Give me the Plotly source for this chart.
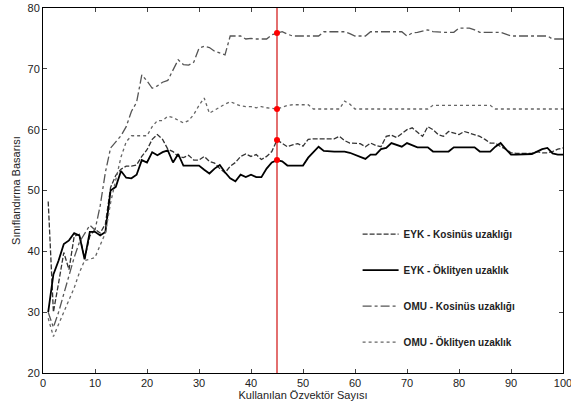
import plotly.graph_objects as go

x_vals = list(range(1, 101))

eyk_kos = [48.2, 30.0, 34.8, 39.8, 37.0, 42.5, 42.8, 38.8, 42.5, 43.6,
           43.0, 44.5, 50.5, 52.5, 53.5, 54.0, 54.0, 54.2, 55.6, 56.7,
           58.4, 59.2, 58.4, 56.8, 56.4, 55.6, 55.4, 55.8, 55.0, 55.0,
           55.6, 54.8, 54.5, 53.6, 52.9, 54.0, 54.6, 55.6, 56.0, 55.6,
           55.9, 55.1, 55.6, 56.4, 58.3, 57.8, 57.2, 57.5, 57.7, 57.3,
           58.4, 58.5, 58.5, 58.5, 58.5, 58.5, 58.9, 58.2, 57.8, 57.8,
           57.7, 57.2, 57.8, 57.4, 57.2, 58.9, 59.1, 58.7, 59.4, 60.0,
           60.3, 59.6, 58.9, 60.5, 60.0, 59.2, 58.9, 59.7, 59.4, 59.2,
           59.7, 59.4, 59.2, 58.9, 58.4, 57.8, 57.8, 57.2, 56.8, 56.2,
           56.1, 56.1, 56.1, 56.1, 56.4, 56.2, 56.2, 56.4, 56.8, 57.0]

eyk_okl = [30.0, 36.2, 38.5, 41.2, 41.8, 43.0, 42.6, 38.7, 43.2, 43.2,
           42.6, 43.2, 50.0, 50.6, 53.2, 52.1, 52.0, 52.6, 55.0, 54.6,
           56.3, 55.8, 56.3, 56.6, 54.6, 56.0, 54.1, 54.1, 54.1, 54.1,
           53.4, 52.8, 53.6, 54.2, 53.0, 52.0, 51.5, 52.6, 52.2, 52.6,
           52.2, 52.2, 53.6, 54.6, 55.0, 54.8, 54.1, 54.1, 54.1, 54.1,
           55.4, 56.3, 57.2, 56.5, 56.4, 56.4, 56.4, 56.4, 56.2, 55.9,
           55.6, 55.2, 55.9, 55.9, 56.8, 57.0, 57.8, 57.5, 57.2, 57.8,
           57.4, 57.1, 57.1, 57.1, 56.4, 56.4, 56.4, 56.4, 57.1, 57.1,
           57.1, 57.1, 57.1, 56.4, 56.4, 56.4, 57.2, 57.8, 56.8, 55.9,
           55.9, 55.9, 55.9, 56.0, 56.4, 56.8, 57.0, 56.1, 55.9, 55.9]

omu_kos = [30.0, 27.5, 30.0, 33.0, 36.0, 39.0, 41.5, 43.0, 44.3, 43.5,
           47.5, 53.0, 57.0, 58.0, 59.0, 60.5, 63.0, 64.5, 69.0, 68.0,
           66.8, 67.2, 67.8, 68.1, 69.8, 71.5, 70.7, 70.6, 71.1, 73.4,
           73.7, 73.5, 72.9, 72.6, 72.3, 75.4, 75.4, 75.4, 74.9, 75.0,
           74.9, 74.9, 74.9, 75.6, 75.9, 76.1, 75.7, 75.4, 75.4, 75.4,
           75.4, 75.4, 75.4, 76.1, 76.1, 76.1, 76.1, 76.1, 75.8, 75.4,
           75.4, 75.4, 76.1, 76.1, 76.1, 76.1, 76.1, 76.1, 76.1, 75.4,
           75.9, 76.0, 76.2, 76.4, 76.1, 76.0, 76.0, 76.0, 76.0, 76.7,
           76.7, 76.7, 76.4, 76.0, 76.0, 76.0, 76.0, 76.0, 75.7, 75.4,
           75.4, 75.4, 75.4, 75.4, 75.4, 75.4, 75.4, 74.9, 74.9, 74.9]

omu_okl = [29.0, 26.0, 28.0, 30.0, 32.0, 34.0, 36.5, 38.5, 38.7, 39.0,
           41.0, 43.0, 48.0, 52.0, 55.5, 58.0, 59.0, 59.0, 59.0, 59.0,
           60.5, 61.5, 61.5, 62.2, 62.0, 61.5, 61.1, 61.5, 62.5, 64.0,
           65.2, 62.7, 63.2, 63.8, 64.2, 64.6, 64.2, 63.9, 63.8, 63.8,
           63.6, 63.8, 63.6, 63.5, 63.4, 63.7, 64.0, 64.1, 64.1, 64.1,
           64.1, 63.4, 63.4, 63.4, 63.4, 63.4, 63.4, 64.7, 64.2, 63.4,
           63.4, 63.4, 63.4, 63.4, 63.4, 63.4, 63.4, 63.4, 63.4, 63.4,
           63.4, 63.4, 63.4, 63.4, 64.0, 64.0, 64.0, 64.0, 64.0, 64.0,
           64.0, 64.0, 64.0, 64.0, 64.0, 64.0, 63.4, 63.4, 63.4, 63.4,
           63.4, 63.4, 63.4, 63.4, 63.4, 63.4, 63.4, 63.4, 63.4, 63.4]

series_names = ["EYK - Kosinüs uzaklığı", "EYK - Öklityen uzaklık",
                "OMU - Kosinüs uzaklığı", "OMU - Öklityen uzaklık"]
marker_x = 45

x_ticks = list(range(0, 101, 10))
y_ticks = list(range(20, 81, 10))

FONT = "Liberation Sans, Arial, sans-serif"

fig = go.Figure()

styles = [
    dict(color="#333333", width=1.3, dash="5px,2px"),
    dict(color="#000000", width=1.8, dash="solid"),
    dict(color="#555555", width=1.3, dash="dashdot"),
    dict(color="#666666", width=1.3, dash="dot"),
]
all_series = [eyk_kos, eyk_okl, omu_kos, omu_okl]

for name, ys, st in zip(series_names, all_series, styles):
    fig.add_trace(go.Scatter(x=x_vals, y=ys, mode="lines", name=name,
                             line=st, legendgroup=name))

# vertical red line at selected eigenvector count
fig.add_trace(go.Scatter(x=[marker_x, marker_x], y=[20, 80], mode="lines",
                         line=dict(color="#d01010", width=1.2),
                         showlegend=False, hoverinfo="skip"))

idx = x_vals.index(marker_x)
fig.add_trace(go.Scatter(x=[marker_x] * 4, y=[s[idx] for s in all_series],
                         mode="markers",
                         marker=dict(color="#ff0000", size=6),
                         showlegend=False))

fig.update_layout(
    width=571, height=408,
    margin=dict(l=43, r=8, t=8, b=35),
    paper_bgcolor="white", plot_bgcolor="white",
    font=dict(family=FONT, size=11, color="#222222"),
    showlegend=True,
    legend=dict(x=0.605, y=0.42, xanchor="left", yanchor="top",
                bgcolor="rgba(0,0,0,0)", borderwidth=0,
                font=dict(family=FONT, size=10, color="#222222", weight="bold"),
                tracegroupgap=17, itemwidth=36),
)
fig.update_xaxes(range=[0, 100], tickvals=x_ticks, ticks="inside", ticklen=4,
                 showline=True, linecolor="black", linewidth=1, mirror="ticks",
                 showgrid=False, zeroline=False, automargin=False,
                 ticklabeloverflow="allow",
                 title=dict(text="Kullanılan Özvektör Sayısı", standoff=2,
                            font=dict(size=11)))
fig.update_yaxes(range=[20, 80], tickvals=y_ticks, ticks="inside", ticklen=4,
                 showline=True, linecolor="black", linewidth=1, mirror="ticks",
                 showgrid=False, zeroline=False, automargin=False,
                 ticklabeloverflow="allow",
                 title=dict(text="Sınıflandırma Basarısı", standoff=4,
                            font=dict(size=11)))

fig.write_html("out.html",
               config={"displayModeBar": False},
               post_script="document.body.style.margin='0';")
